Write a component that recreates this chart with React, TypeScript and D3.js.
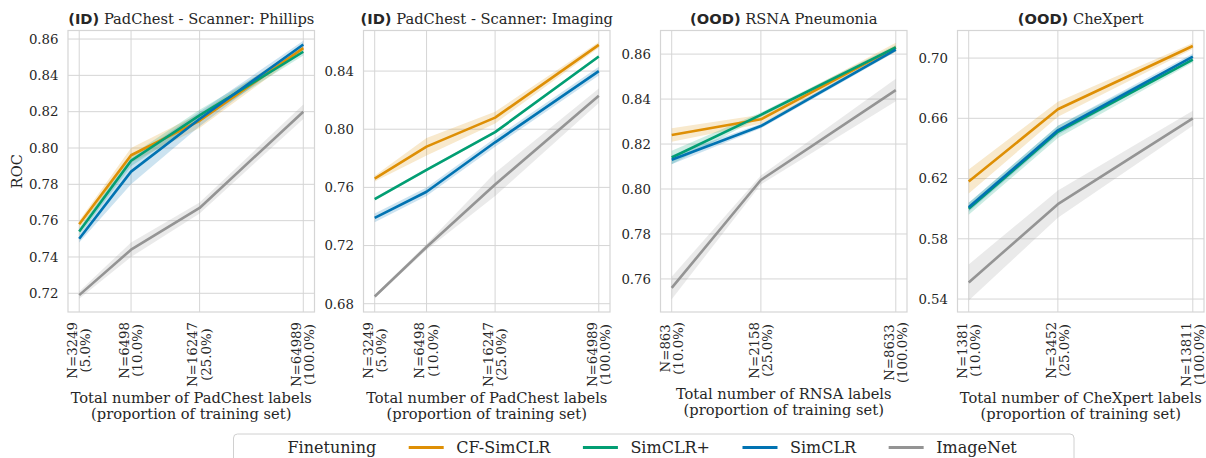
import * as d3 from "d3";
import React, { useEffect, useRef } from "react";

// methods / colours (seaborn colorblind)
const methods = ["CF-SimCLR", "SimCLR+", "SimCLR", "ImageNet"];
const colors = ["#de8f05", "#029e73", "#0173b2", "#949494"];

// x ticks
const padchestN = [3249, 6498, 16247, 64989];
const padchestPct = ["5.0%", "10.0%", "25.0%", "100.0%"];
const rsnaN = [863, 2158, 8633];
const rsnaPct = ["10.0%", "25.0%", "100.0%"];
const chexN = [1381, 3452, 13811];
const chexPct = ["10.0%", "25.0%", "100.0%"];

// PadChest - Phillips
const phillipsCF = [0.758, 0.796, 0.815, 0.855];
const phillipsPlus = [0.754, 0.793, 0.818, 0.853];
const phillipsSim = [0.75, 0.787, 0.816, 0.857];
const phillipsImg = [0.719, 0.744, 0.767, 0.82];
const phillipsCFci = [0.002, 0.004, 0.004, 0.002];
const phillipsPlusci = [0.002, 0.003, 0.003, 0.002];
const phillipsSimci = [0.002, 0.007, 0.004, 0.002];
const phillipsImgci = [0.002, 0.004, 0.003, 0.004];

// PadChest - Imaging
const imagingCF = [0.766, 0.788, 0.808, 0.858];
const imagingPlus = [0.752, 0.772, 0.798, 0.85];
const imagingSim = [0.739, 0.757, 0.791, 0.84];
const imagingImg = [0.685, 0.719, 0.762, 0.823];
const imagingCFci = [0.002, 0.006, 0.004, 0.002];
const imagingPlusci = [0.001, 0.001, 0.001, 0.001];
const imagingSimci = [0.003, 0.003, 0.003, 0.003];
const imagingImgci = [0.001, 0.002, 0.008, 0.005];

// RSNA
const rsnaCF = [0.824, 0.831, 0.863];
const rsnaPlus = [0.814, 0.833, 0.863];
const rsnaSim = [0.813, 0.828, 0.862];
const rsnaImg = [0.756, 0.804, 0.844];
const rsnaCFci = [0.003, 0.002, 0.002];
const rsnaPlusci = [0.003, 0.001, 0.001];
const rsnaSimci = [0.002, 0.001, 0.001];
const rsnaImgci = [0.005, 0.002, 0.005];

// CheXpert
const chexCF = [0.618, 0.666, 0.708];
const chexPlus = [0.6, 0.651, 0.699];
const chexSim = [0.601, 0.652, 0.701];
const chexImg = [0.551, 0.603, 0.66];
const chexCFci = [0.008, 0.005, 0.002];
const chexPlusci = [0.004, 0.004, 0.002];
const chexSimci = [0.003, 0.003, 0.002];
const chexImgci = [0.012, 0.009, 0.005];

// y ticks
const phillipsTicks = [0.72, 0.74, 0.76, 0.78, 0.8, 0.82, 0.84, 0.86];
const imagingTicks = [0.68, 0.72, 0.76, 0.8, 0.84];
const rsnaTicks = [0.76, 0.78, 0.8, 0.82, 0.84, 0.86];
const chexTicks = [0.54, 0.58, 0.62, 0.66, 0.7];

const panels = [
  {
    tag: "(ID)", title: "PadChest - Scanner: Phillips", dataset: "PadChest",
    n: padchestN, pct: padchestPct, ticks: phillipsTicks, ylim: [0.7097, 0.8647],
    series: [phillipsCF, phillipsPlus, phillipsSim, phillipsImg],
    ci: [phillipsCFci, phillipsPlusci, phillipsSimci, phillipsImgci],
  },
  {
    tag: "(ID)", title: "PadChest - Scanner: Imaging", dataset: "PadChest",
    n: padchestN, pct: padchestPct, ticks: imagingTicks, ylim: [0.6743, 0.8679],
    series: [imagingCF, imagingPlus, imagingSim, imagingImg],
    ci: [imagingCFci, imagingPlusci, imagingSimci, imagingImgci],
  },
  {
    tag: "(OOD)", title: "RSNA Pneumonia", dataset: "RNSA",
    n: rsnaN, pct: rsnaPct, ticks: rsnaTicks, ylim: [0.7453, 0.8705],
    series: [rsnaCF, rsnaPlus, rsnaSim, rsnaImg],
    ci: [rsnaCFci, rsnaPlusci, rsnaSimci, rsnaImgci],
  },
  {
    tag: "(OOD)", title: "CheXpert", dataset: "CheXpert",
    n: chexN, pct: chexPct, ticks: chexTicks, ylim: [0.5314, 0.7183],
    series: [chexCF, chexPlus, chexSim, chexImg],
    ci: [chexCFci, chexPlusci, chexSimci, chexImgci],
  },
];

const W = 1206;
const H = 458;
const SERIF = "'DejaVu Serif', serif";
const SANS = "'DejaVu Sans', sans-serif";
const FS = 13.3; // tick labels
const LFS = 14.67; // axis labels / titles
const GRID = "#d5d5d5";
const INK = "#262626";

export default function App() {
  const ref = useRef<SVGSVGElement>(null);

  useEffect(() => {
    const svg = d3.select(ref.current);
    svg.selectAll("*").remove();

    const top = 30.5;
    const bottom = 312;
    const pw = 246.5;
    const lefts = [68, 363.5, 660.5, 957.5];

    panels.forEach((p, pi) => {
      const left = lefts[pi];
      const right = left + pw;
      const g = svg.append("g");

      const lo = Math.log10(p.n[0]);
      const hi = Math.log10(p.n[p.n.length - 1]);
      const m = (hi - lo) * 0.05;
      const x = d3.scaleLog()
        .domain([Math.pow(10, lo - m), Math.pow(10, hi + m)])
        .range([left, right]);
      const y = d3.scaleLinear().domain(p.ylim).range([bottom, top]);

      // grid
      g.selectAll(".gy").data(p.ticks).join("line")
        .attr("x1", left).attr("x2", right)
        .attr("y1", (d) => y(d)).attr("y2", (d) => y(d))
        .attr("stroke", GRID).attr("stroke-width", 1);
      g.selectAll(".gx").data(p.n).join("line")
        .attr("x1", (d) => x(d)).attr("x2", (d) => x(d))
        .attr("y1", top).attr("y2", bottom)
        .attr("stroke", GRID).attr("stroke-width", 1);

      // bands + lines
      p.series.forEach((s, si) => {
        const pts = s.map((v, i) => ({ n: p.n[i], v, c: p.ci[si][i] }));
        const area = d3.area<any>()
          .x((d) => x(d.n)).y0((d) => y(d.v - d.c)).y1((d) => y(d.v + d.c));
        g.append("path").datum(pts).attr("d", area)
          .attr("fill", colors[si]).attr("fill-opacity", 0.2);
      });
      p.series.forEach((s, si) => {
        const pts = s.map((v, i) => ({ n: p.n[i], v }));
        const line = d3.line<any>().x((d) => x(d.n)).y((d) => y(d.v));
        g.append("path").datum(pts).attr("d", line)
          .attr("fill", "none").attr("stroke", colors[si])
          .attr("stroke-width", 2.6).attr("stroke-linejoin", "round");
      });

      // frame
      g.append("rect").attr("x", left).attr("y", top)
        .attr("width", pw).attr("height", bottom - top)
        .attr("fill", "none").attr("stroke", GRID).attr("stroke-width", 1.2);

      // y tick labels
      g.selectAll(".yt").data(p.ticks).join("text")
        .attr("x", left - 9.5).attr("y", (d) => y(d))
        .attr("dy", "0.36em").attr("text-anchor", "end")
        .attr("font-family", SERIF).attr("font-size", FS).attr("fill", INK)
        .text((d) => d.toFixed(2));

      // x tick labels, two lines rotated
      let maxBottom = 0;
      p.n.forEach((nv, i) => {
        const l1 = `N=${nv}`;
        const l2 = `(${p.pct[i]})`;
        const t = g.append("text").attr("font-family", SERIF).attr("font-size", FS)
          .attr("fill", INK).attr("text-anchor", "middle");
        const a = t.append("tspan").attr("x", 0).attr("y", -6.7)
          .attr("dominant-baseline", "central").text(l1);
        const b = t.append("tspan").attr("x", 0).attr("y", 6.7)
          .attr("dominant-baseline", "central").text(l2);
        const len = Math.max(
          (a.node() as SVGTextContentElement).getComputedTextLength(),
          (b.node() as SVGTextContentElement).getComputedTextLength()
        );
        const cy = 322 + len / 2;
        t.attr("transform", `translate(${x(nv)},${cy}) rotate(-90)`);
        maxBottom = Math.max(maxBottom, 322 + len);
      });

      // x label
      const cx = (left + right) / 2;
      const xl = g.append("text").attr("font-family", SERIF).attr("font-size", LFS)
        .attr("fill", INK).attr("text-anchor", "middle");
      xl.append("tspan").attr("x", cx).attr("y", maxBottom + 16)
        .text(`Total number of ${p.dataset} labels`);
      xl.append("tspan").attr("x", cx).attr("y", maxBottom + 32.3)
        .text("(proportion of training set)");

      // title
      const tt = g.append("text").attr("x", cx).attr("y", 23.5)
        .attr("text-anchor", "middle").attr("font-size", LFS).attr("fill", INK);
      tt.append("tspan").attr("font-family", SANS).attr("font-weight", "bold").text(p.tag);
      tt.append("tspan").attr("font-family", SERIF).text(" " + p.title);

      if (pi === 0) {
        svg.append("text")
          .attr("transform", `translate(22,${(top + bottom) / 2}) rotate(-90)`)
          .attr("text-anchor", "middle").attr("font-family", SERIF)
          .attr("font-size", LFS).attr("fill", INK).text("ROC");
      }
    });

    // legend
    const lg = svg.append("g");
    const boxL = 233.5;
    const boxR = 1074;
    const boxT = 434;
    lg.append("rect").attr("x", boxL).attr("y", boxT)
      .attr("width", boxR - boxL).attr("height", 40).attr("rx", 4)
      .attr("fill", "white").attr("fill-opacity", 0.8)
      .attr("stroke", "#d0d0d0").attr("stroke-width", 1);
    const entries = ["Finetuning", ...methods];
    let cur = boxL + 6.5;
    const ly = 447.5;
    entries.forEach((name, i) => {
      if (i > 0) {
        lg.append("line").attr("x1", cur).attr("x2", cur + 35)
          .attr("y1", ly).attr("y2", ly)
          .attr("stroke", colors[i - 1]).attr("stroke-width", 3);
      }
      const txt = lg.append("text").attr("x", cur + 47.5).attr("y", ly)
        .attr("dy", "0.36em").attr("font-family", SERIF).attr("font-size", 16)
        .attr("fill", INK).text(name);
      const len = (txt.node() as SVGTextContentElement).getComputedTextLength();
      cur = cur + 47.5 + len + 32.5;
    });
  }, []);

  return (
    <div style={{ position: "absolute", left: 0, top: 0 }}>
      <svg ref={ref} width={W} height={H} style={{ display: "block" }} />
    </div>
  );
}
